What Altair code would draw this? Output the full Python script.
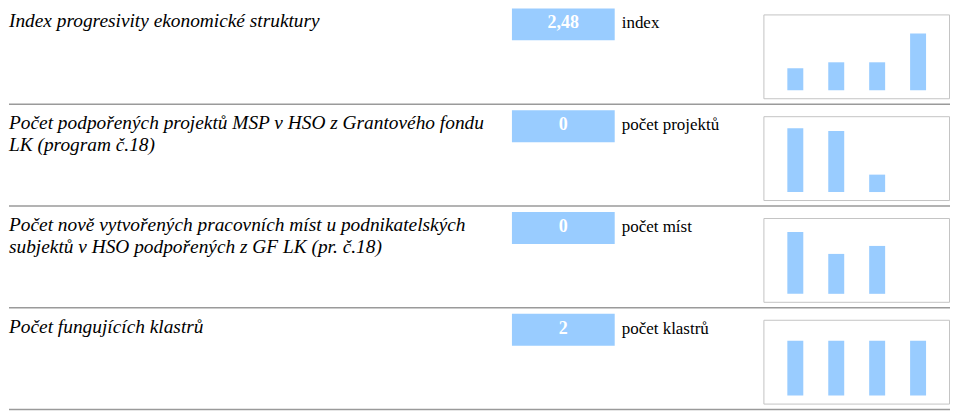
import altair as alt
import pandas as pd

# ---- data ----
periods = ["1", "2", "3", "4"]
titles = [
    "Index progresivity ekonomické struktury",
    "Počet podpořených projektů MSP v HSO z Grantového fondu\nLK (program č.18)",
    "Počet nově vytvořených pracovních míst u podnikatelských\nsubjektů v HSO podpořených z GF LK (pr. č.18)",
    "Počet fungujících klastrů",
]
current_values = ["2,48", "0", "0", "2"]
units = ["index", "počet projektů", "počet míst", "počet klastrů"]
series_index = [0.96, 1.22, 1.22, 2.48]
series_projects = [22, 21, 6, 0]
series_jobs = [31, 20, 24, 0]
series_clusters = [2, 2, 2, 2]
series_all = [series_index, series_projects, series_jobs, series_clusters]
scale_max = [3.57, 28.2, 41.0, 2.98]

BLUE = "#99ccff"
SERIF = "Liberation Serif"


def make_row(i):
    info = alt.Data(values=[{"title": titles[i], "current": current_values[i], "unit": units[i]}])
    base = alt.Chart(info)
    title = base.mark_text(
        align="left", baseline="alphabetic", font=SERIF, fontStyle="italic",
        fontSize=19.4, lineHeight=22, lineBreak="\n", color="black"
    ).encode(x=alt.value(0), y=alt.value(19), text="title:N")
    box = base.mark_rect(color=BLUE).encode(
        x=alt.value(504), x2=alt.value(607), y=alt.value(0), y2=alt.value(32)
    )
    value = base.mark_text(
        align="center", baseline="alphabetic", font=SERIF, fontWeight="bold",
        fontSize=18, color="white"
    ).encode(x=alt.value(555.5), y=alt.value(20), text="current:N")
    unit = base.mark_text(
        align="left", baseline="alphabetic", font=SERIF, fontSize=17, color="black"
    ).encode(x=alt.value(614), y=alt.value(20), text="unit:N")
    frame = base.mark_rect(fill="white", stroke="#c4c4c4", strokeWidth=1).encode(
        x=alt.value(756.5), x2=alt.value(942.5), y=alt.value(6.5), y2=alt.value(90.5)
    )
    sep = base.mark_rule(color="#9a9a9a", strokeWidth=1.5).encode(
        x=alt.value(0), x2=alt.value(943), y=alt.value(96)
    )
    bars_df = pd.DataFrame({"period": periods, "value": series_all[i]})
    bars = alt.Chart(bars_df).mark_bar(color=BLUE).encode(
        x=alt.X("period:N", sort=periods,
                scale=alt.Scale(domain=periods, range=[756, 943], paddingInner=0.61, paddingOuter=0.585),
                axis=None),
        y=alt.Y("value:Q", scale=alt.Scale(domain=[0, scale_max[i]], range=[82, 0], nice=False),
                axis=None),
    )
    return alt.layer(title, box, value, unit, frame, bars, sep).properties(width=943, height=102)


chart = alt.vconcat(*[make_row(i) for i in range(4)], spacing=0).resolve_scale(
    x="independent", y="independent"
).properties(padding=0).configure_view(stroke=None).configure_concat(spacing=0)

chart.save("out.html", embed_options={"renderer": "svg", "actions": False})
